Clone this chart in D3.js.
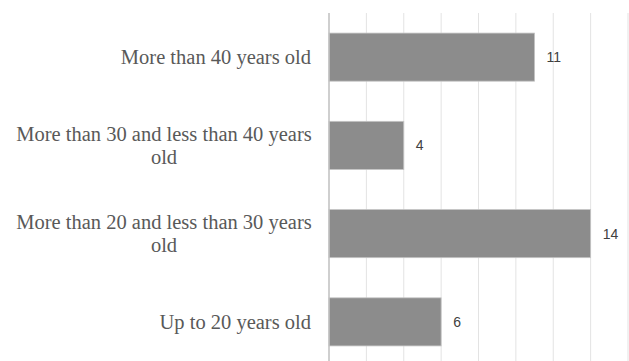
<!DOCTYPE html>
<html><head><meta charset="utf-8">
<script src="https://cdn.jsdelivr.net/npm/d3@7"></script>
<style>body{margin:0;background:#fff}</style>
</head><body><svg id="c" width="629" height="361"></svg>
<script>
const categories = ["More than 40 years old","More than 30 and less than 40 years old","More than 20 and less than 30 years old","Up to 20 years old"];
const values = [11,4,14,6];
const xTicks = [0,2,4,6,8,10,12,14,16];

const svg = d3.select("#c");
const x = d3.scaleLinear().domain([0,16]).range([329,628]);
const y = d3.scaleBand().domain(categories).range([13,366]).paddingInner(0.455).paddingOuter(0.2275);

svg.append("g").selectAll("line").data(xTicks.slice(1)).join("line")
  .attr("x1",d=>x(d)).attr("x2",d=>x(d)).attr("y1",13).attr("y2",366)
  .attr("stroke","#e3e3e3").attr("stroke-width",1);

svg.append("g").selectAll("rect").data(values).join("rect")
  .attr("x",x(0)).attr("y",(d,i)=>y(categories[i]))
  .attr("width",d=>x(d)-x(0)).attr("height",y.bandwidth())
  .attr("fill","#8c8c8c").attr("stroke","#c4c4c4").attr("stroke-width",0.8);

svg.append("line").attr("x1",x(0)).attr("x2",x(0)).attr("y1",13).attr("y2",366)
  .attr("stroke","#bfbfbf").attr("stroke-width",1.5);

svg.append("g").selectAll("text").data(values).join("text")
  .attr("x",d=>x(d)+12).attr("y",(d,i)=>y(categories[i])+y.bandwidth()/2)
  .attr("dy","0.36em").attr("font-family","Liberation Sans, Arial, sans-serif")
  .attr("font-size",14).attr("fill","#404040").text(d=>d);

const lab = svg.append("g").attr("font-family","Liberation Serif, Times New Roman, serif")
  .attr("font-size",20.5).attr("fill","#595959");
const maxW = 300, lh = 23, cx = 164;
categories.forEach(c=>{
  const t = lab.append("text").attr("text-anchor","middle");
  const words = c.split(" ");
  let lines=[], cur="";
  words.forEach(w=>{
    const test = cur? cur+" "+w : w;
    t.text(test);
    if (t.node().getComputedTextLength()>maxW && cur){ lines.push(cur); cur=w; } else cur=test;
  });
  lines.push(cur);
  t.text(null);
  const cy = y(c)+y.bandwidth()/2;
  lines.forEach((l,i)=>{
    t.append("tspan").attr("x", lines.length>1? cx : 311).attr("y", cy + (i-(lines.length-1)/2)*lh)
     .attr("dy","0.35em").attr("text-anchor", lines.length>1?"middle":"end").text(l);
  });
});
</script></body></html>
